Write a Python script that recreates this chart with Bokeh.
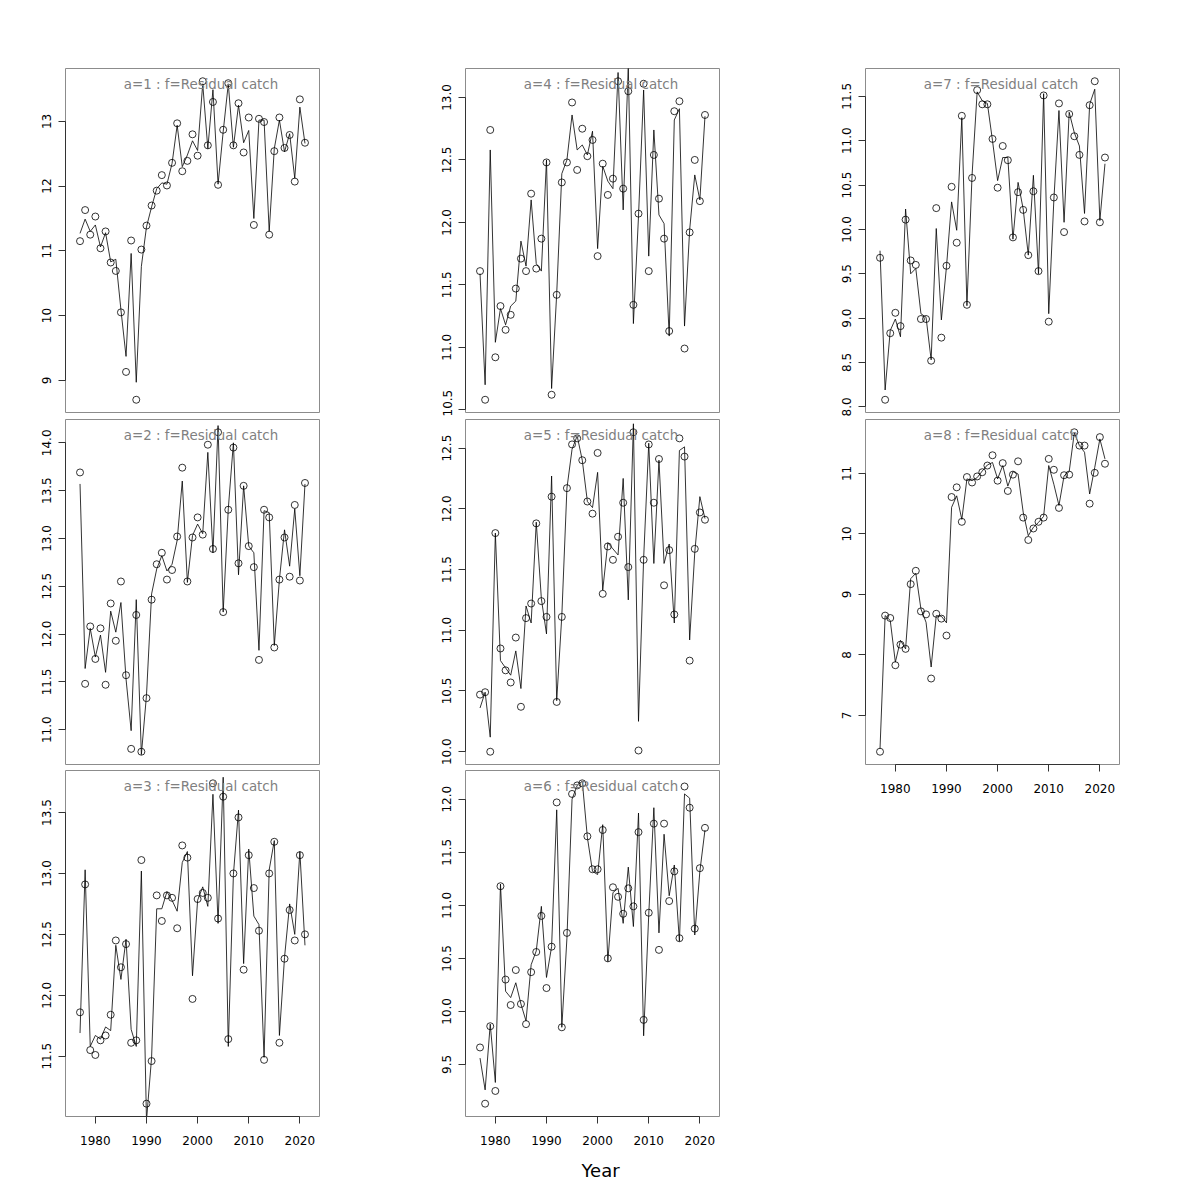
from bokeh.plotting import figure
from bokeh.layouts import row, column
from bokeh.models import Range1d, FixedTicker, Label, Title
from bokeh.embed import file_html
from bokeh.resources import INLINE

# ---------------- data ----------------
years = list(range(1977, 2022))
ages = [1, 2, 3, 4, 5, 6, 7, 8]
fleet = "Residual catch"
x_ticks = [1980, 1990, 2000, 2010, 2020]

obs1 = [11.15, 11.63, 11.25, 11.53, 11.04, 11.30, 10.82, 10.69, 10.05, 9.13,
        11.16, 8.70, 11.02, 11.39, 11.70, 11.93, 12.17, 12.01, 12.36, 12.97,
        12.23, 12.39, 12.80, 12.47, 13.62, 12.63, 13.30, 12.02, 12.87, 13.59,
        12.63, 13.28, 12.52, 13.06, 11.40, 13.04, 12.99, 11.25, 12.54, 13.06,
        12.59, 12.79, 12.07, 13.34, 12.67]
fit1 = [11.27, 11.49, 11.30, 11.40, 11.06, 11.28, 10.83, 10.87, 10.09, 9.37,
        10.96, 8.97, 10.76, 11.37, 11.68, 11.96, 12.05, 12.03, 12.35, 12.94,
        12.30, 12.48, 12.70, 12.55, 13.58, 12.58, 13.49, 12.03, 12.84, 13.58,
        12.60, 13.25, 12.67, 12.86, 11.50, 13.02, 13.02, 11.30, 12.58, 13.02,
        12.53, 12.81, 12.12, 13.22, 12.66]

obs2 = [13.69, 11.48, 12.08, 11.74, 12.06, 11.47, 12.32, 11.93, 12.55, 11.57,
        10.80, 12.20, 10.77, 11.33, 12.36, 12.73, 12.85, 12.57, 12.67, 13.02,
        13.74, 12.55, 13.01, 13.22, 13.04, 13.98, 12.89, 14.11, 12.23, 13.30,
        13.95, 12.74, 13.55, 12.92, 12.70, 11.73, 13.30, 13.22, 11.86, 12.57,
        13.01, 12.60, 13.35, 12.56, 13.58]
fit2 = [13.57, 11.64, 12.06, 11.76, 11.99, 11.60, 12.24, 12.02, 12.33, 11.53,
        10.99, 12.36, 10.74, 11.36, 12.42, 12.68, 12.82, 12.66, 12.73, 12.98,
        13.60, 12.54, 13.03, 13.15, 13.05, 13.90, 12.85, 14.18, 12.23, 13.31,
        14.00, 12.62, 13.55, 12.92, 12.85, 11.83, 13.29, 13.27, 11.88, 12.57,
        13.09, 12.71, 13.31, 12.61, 13.57]

obs3 = [11.86, 12.91, 11.55, 11.51, 11.63, 11.67, 11.84, 12.45, 12.23, 12.42,
        11.61, 11.63, 13.11, 11.11, 11.46, 12.82, 12.61, 12.82, 12.80, 12.55,
        13.23, 13.13, 11.97, 12.79, 12.84, 12.80, 13.74, 12.63, 13.63, 11.64,
        13.00, 13.46, 12.21, 13.15, 12.88, 12.53, 11.47, 13.00, 13.26, 11.61,
        12.30, 12.70, 12.45, 13.15, 12.50]
fit3 = [11.69, 13.03, 11.58, 11.67, 11.64, 11.74, 11.71, 12.41, 12.13, 12.46,
        11.72, 11.58, 13.02, 10.97, 11.49, 12.71, 12.71, 12.85, 12.78, 12.69,
        13.09, 13.18, 12.16, 12.78, 12.89, 12.73, 13.65, 12.59, 13.79, 11.58,
        12.99, 13.52, 12.26, 13.20, 12.65, 12.58, 11.49, 13.03, 13.27, 11.67,
        12.31, 12.75, 12.50, 13.18, 12.41]

obs4 = [11.61, 10.58, 12.74, 10.92, 11.33, 11.14, 11.26, 11.47, 11.71, 11.61,
        12.23, 11.63, 11.87, 12.48, 10.62, 11.42, 12.32, 12.48, 12.96, 12.42,
        12.75, 12.53, 12.66, 11.73, 12.47, 12.22, 12.35, 13.13, 12.27, 13.05,
        11.34, 12.07, 13.11, 11.61, 12.54, 12.19, 11.87, 11.13, 12.89, 12.97,
        10.99, 11.92, 12.50, 12.17, 12.86]
fit4 = [11.59, 10.70, 12.58, 11.04, 11.31, 11.18, 11.33, 11.37, 11.85, 11.65,
        12.18, 11.67, 11.61, 12.50, 10.67, 11.43, 12.39, 12.50, 12.86, 12.58,
        12.62, 12.54, 12.73, 11.79, 12.45, 12.33, 12.27, 13.20, 12.10, 13.25,
        11.19, 12.05, 13.06, 11.73, 12.74, 12.06, 11.99, 11.09, 12.82, 12.91,
        11.17, 11.94, 12.38, 12.18, 12.85]

obs5 = [10.47, 10.49, 10.00, 11.80, 10.85, 10.67, 10.57, 10.94, 10.37, 11.10,
        11.22, 11.88, 11.24, 11.11, 12.10, 10.41, 11.11, 12.17, 12.53, 12.58,
        12.40, 12.06, 11.96, 12.46, 11.30, 11.69, 11.58, 11.77, 12.05, 11.52,
        12.63, 10.01, 11.58, 12.53, 12.05, 12.41, 11.37, 11.66, 11.13, 12.58,
        12.43, 10.75, 11.67, 11.97, 11.91]
fit5 = [10.36, 10.49, 10.12, 11.80, 10.75, 10.69, 10.63, 10.83, 10.52, 11.20,
        11.06, 11.89, 11.26, 10.97, 12.27, 10.42, 11.12, 12.17, 12.49, 12.60,
        12.40, 12.06, 12.01, 12.30, 11.33, 11.72, 11.67, 11.62, 12.25, 11.25,
        12.70, 10.25, 11.59, 12.54, 11.55, 12.40, 11.55, 11.71, 11.06, 12.48,
        12.51, 10.92, 11.64, 12.10, 11.92]

obs6 = [9.66, 9.13, 9.86, 9.25, 11.18, 10.30, 10.06, 10.39, 10.07, 9.88,
        10.37, 10.56, 10.90, 10.22, 10.61, 11.97, 9.85, 10.74, 12.05, 12.13,
        12.15, 11.65, 11.34, 11.34, 11.71, 10.50, 11.17, 11.08, 10.92, 11.16,
        10.99, 11.69, 9.92, 10.93, 11.77, 10.58, 11.77, 11.04, 11.32, 10.69,
        12.12, 11.92, 10.78, 11.35, 11.73]
fit6 = [9.56, 9.26, 9.88, 9.33, 11.20, 10.19, 10.13, 10.27, 10.07, 9.91,
        10.44, 10.57, 10.99, 10.32, 10.61, 11.90, 9.85, 10.69, 12.00, 12.13,
        12.17, 11.64, 11.32, 11.29, 11.76, 10.47, 11.12, 11.16, 10.83, 11.36,
        10.80, 11.87, 9.77, 10.91, 11.92, 10.74, 11.67, 11.09, 11.38, 10.66,
        12.05, 12.01, 10.72, 11.32, 11.71]

obs7 = [9.68, 8.08, 8.83, 9.06, 8.91, 10.11, 9.65, 9.60, 8.99, 8.99,
        8.52, 10.24, 8.78, 9.59, 10.48, 9.85, 11.28, 9.15, 10.58, 11.57,
        11.41, 11.41, 11.02, 10.47, 10.94, 10.78, 9.91, 10.42, 10.22, 9.71,
        10.43, 9.53, 11.51, 8.96, 10.36, 11.42, 9.97, 11.30, 11.05, 10.84,
        10.09, 11.40, 11.67, 10.08, 10.81]
fit7 = [9.76, 8.19, 8.86, 8.99, 8.79, 10.23, 9.50, 9.56, 9.05, 9.01,
        8.53, 10.01, 8.98, 9.58, 10.31, 9.99, 11.26, 9.14, 10.61, 11.55,
        11.45, 11.42, 11.00, 10.55, 10.81, 10.81, 9.89, 10.53, 10.23, 9.71,
        10.61, 9.50, 11.53, 9.05, 10.33, 11.34, 10.08, 11.32, 11.09, 10.94,
        10.18, 11.41, 11.58, 10.10, 10.74]

obs8 = [6.40, 8.65, 8.61, 7.83, 8.17, 8.10, 9.17, 9.39, 8.72, 8.67,
        7.61, 8.68, 8.60, 8.32, 10.61, 10.77, 10.20, 10.94, 10.85, 10.95,
        11.02, 11.13, 11.30, 10.88, 11.17, 10.71, 10.98, 11.20, 10.27, 9.90,
        10.09, 10.20, 10.27, 11.24, 11.06, 10.43, 10.97, 10.98, 11.68, 11.46,
        11.46, 10.50, 11.01, 11.60, 11.16]
fit8 = [6.45, 8.65, 8.57, 7.88, 8.24, 8.10, 9.26, 9.35, 8.76, 8.54,
        7.80, 8.65, 8.64, 8.53, 10.44, 10.63, 10.24, 10.91, 10.88, 10.93,
        11.04, 11.14, 11.18, 10.91, 11.13, 10.79, 11.03, 10.99, 10.36, 9.97,
        10.11, 10.19, 10.29, 11.13, 10.82, 10.47, 10.96, 11.03, 11.67, 11.46,
        11.35, 10.66, 11.10, 11.57, 11.24]

y_ticks1 = [9, 10, 11, 12, 13]
y_ticks2 = [11.0, 11.5, 12.0, 12.5, 13.0, 13.5, 14.0]
y_ticks3 = [11.5, 12.0, 12.5, 13.0, 13.5]
y_ticks4 = [10.5, 11.0, 11.5, 12.0, 12.5, 13.0]
y_ticks5 = [10.0, 10.5, 11.0, 11.5, 12.0, 12.5]
y_ticks6 = [9.5, 10.0, 10.5, 11.0, 11.5, 12.0]
y_ticks7 = [8.0, 8.5, 9.0, 9.5, 10.0, 10.5, 11.0, 11.5]
y_ticks8 = [7, 8, 9, 10, 11]
y_decimals = [0, 1, 1, 1, 1, 1, 1, 0]

observed = [obs1, obs2, obs3, obs4, obs5, obs6, obs7, obs8]
fitted = [fit1, fit2, fit3, fit4, fit5, fit6, fit7, fit8]
y_ticks = [y_ticks1, y_ticks2, y_ticks3, y_ticks4, y_ticks5, y_ticks6, y_ticks7, y_ticks8]

FONT = "DejaVu Sans"


def make_panel(i, top, frame_h, bottom, right, show_x, xlabel=None):
    ob = observed[i]
    lo, hi = min(ob), max(ob)
    pad = 0.04 * (hi - lo)
    x0, x1 = years[0] - 1, years[-1] + 1
    xpad = 0.04 * (x1 - x0)
    p = figure(frame_width=254, frame_height=frame_h,
               x_range=Range1d(x0 - xpad, x1 + xpad),
               y_range=Range1d(lo - pad, hi + pad),
               output_backend="svg", toolbar_location=None, title=None,
               x_axis_location="below" if show_x else None,
               min_border_left=65, min_border_right=right,
               min_border_top=top, min_border_bottom=bottom)
    p.grid.visible = False
    p.outline_line_color = "#8c8c8c"
    p.outline_line_width = 1
    p.background_fill_color = "white"
    p.border_fill_color = "white"

    ya = p.yaxis[0]
    ya.ticker = FixedTicker(ticks=y_ticks[i])
    ya.bounds = (y_ticks[i][0], y_ticks[i][-1])
    ya.major_label_overrides = {t: (f"{t:.1f}" if y_decimals[i] else str(int(t))) for t in y_ticks[i]}
    ya.major_label_orientation = "vertical"
    ya.major_tick_out = 7
    ya.major_tick_in = 0
    ya.minor_tick_out = 0
    ya.minor_tick_in = 0
    ya.major_label_standoff = 7
    ya.major_label_text_font = FONT
    ya.major_label_text_font_size = "12px"
    ya.major_label_text_color = "black"
    ya.axis_line_color = "#333333"
    ya.major_tick_line_color = "#333333"

    if show_x:
        xa = p.xaxis[0]
        xa.ticker = FixedTicker(ticks=x_ticks)
        xa.bounds = (x_ticks[0], x_ticks[-1])
        xa.major_tick_out = 7
        xa.major_tick_in = 0
        xa.minor_tick_out = 0
        xa.minor_tick_in = 0
        xa.major_label_standoff = 12
        xa.major_label_text_font = FONT
        xa.major_label_text_font_size = "12px"
        xa.major_label_text_color = "black"
        xa.axis_line_color = "#333333"
        xa.major_tick_line_color = "#333333"
        if xlabel:
            p.add_layout(Title(text=xlabel, align="left", offset=116,
                               standoff=21, text_font=FONT,
                               text_font_size="18px", text_font_style="normal",
                               text_color="black"), "below")

    p.line(years, fitted[i], line_color="black", line_width=0.8)
    p.scatter(years, ob, marker="circle", size=7, fill_color=None,
              line_color="black", line_width=0.8)

    title = f"a={ages[i]} : f={fleet}"
    p.add_layout(Label(x=(x0 + x1) / 2, y=hi + pad, x_offset=8.5, y_offset=-16,
                       text=title, text_align="center", text_baseline="middle",
                       text_font=FONT, text_font_size="13.4px",
                       text_color="#808080"))
    return p


f1 = make_panel(0, 68, 344, 4, 81, False)
f2 = make_panel(1, 3, 345, 3, 81, False)
f3 = make_panel(2, 3, 346, 74, 81, True)
f4 = make_panel(3, 68, 344, 4, 81, False)
f5 = make_panel(4, 3, 345, 3, 81, False)
f6 = make_panel(5, 3, 346, 74, 81, True, xlabel="Year")
f7 = make_panel(6, 68, 344, 4, 20, False)
f8 = make_panel(7, 3, 345, 40, 20, True)

layout = row(column(f1, f2, f3, spacing=0),
             column(f4, f5, f6, spacing=0),
             column(f7, f8, spacing=0), spacing=0)

open("out.html", "w").write(file_html(layout, INLINE))
